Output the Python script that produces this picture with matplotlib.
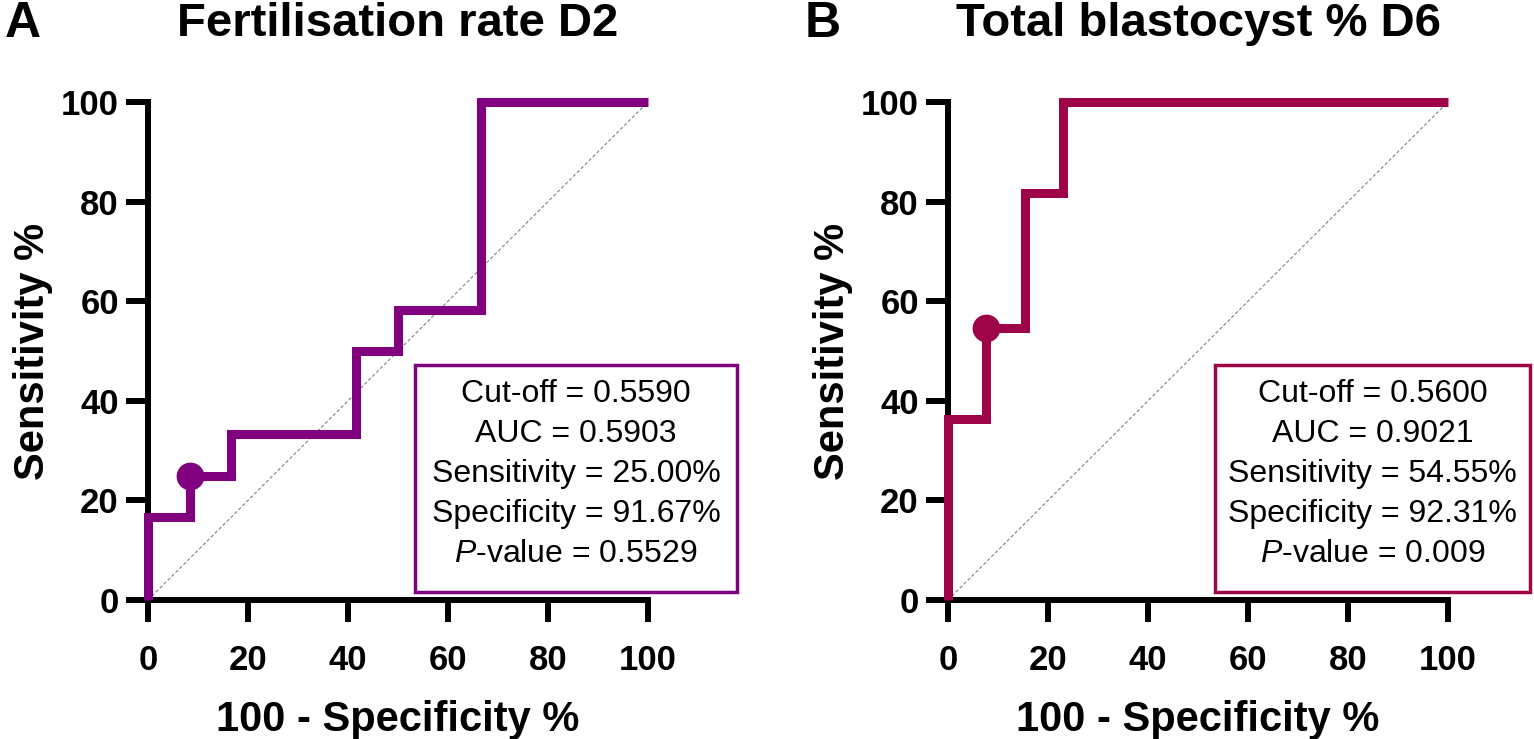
import matplotlib
matplotlib.use('Agg')
import matplotlib.pyplot as plt
from matplotlib.patches import Rectangle

# ROC data (100 - specificity %, sensitivity %)
fpr_a = [0, 0, 8.33, 8.33, 16.67, 16.67, 41.67, 41.67, 50, 50, 66.67, 66.67, 100]
tpr_a = [0, 16.67, 16.67, 25, 25, 33.33, 33.33, 50, 50, 58.33, 58.33, 100, 100]
cut_a = (8.33, 25.0)

fpr_b = [0, 0, 7.69, 7.69, 15.38, 15.38, 23.08, 23.08, 100]
tpr_b = [0, 36.36, 36.36, 54.55, 54.55, 81.82, 81.82, 100, 100]
cut_b = (7.69, 54.55)

titles = ['Fertilisation rate D2', 'Total blastocyst % D6']
letters = ['A', 'B']
colores = ['#800080', '#9E0448']
stats_a = ['Cut-off = 0.5590', 'AUC = 0.5903', 'Sensitivity = 25.00%',
           'Specificity = 91.67%', '$\\it{P}$-value = 0.5529']
stats_b = ['Cut-off = 0.5600', 'AUC = 0.9021', 'Sensitivity = 54.55%',
           'Specificity = 92.31%', '$\\it{P}$-value = 0.009']
ticks = [0, 20, 40, 60, 80, 100]

plt.rcParams['font.family'] = ['Liberation Sans', 'DejaVu Sans']
plt.rcParams['mathtext.fontset'] = 'custom'
plt.rcParams['mathtext.it'] = 'Liberation Sans:italic'
plt.rcParams['mathtext.rm'] = 'Liberation Sans'

fig = plt.figure(figsize=(15.34, 7.39), dpi=100)
lefts = [148/1534, 948/1534]
letter_x = [5/1534, 805/1534]
datos = [(fpr_a, tpr_a, cut_a, stats_a), (fpr_b, tpr_b, cut_b, stats_b)]

for i in range(2):
    ax = fig.add_axes([lefts[i], 1-600/739, 500/1534, 498/739])
    fpr, tpr, cut, stats = datos[i]
    col = colores[i]
    ax.plot([0, 100], [0, 100], ls=(0, (3, 2)), color='gray', lw=0.8, clip_on=False)
    ax.plot(fpr, tpr, color=col, lw=6.5, solid_joinstyle='miter', solid_capstyle='butt',
            clip_on=False, zorder=3)
    ax.plot(cut[0], cut[1], 'o', color=col, ms=19, clip_on=False, zorder=4)
    ax.set_xlim(0, 100)
    ax.set_ylim(0, 100)
    ax.set_xticks(ticks)
    ax.set_yticks(ticks)
    for s in ['top', 'right']:
        ax.spines[s].set_visible(False)
    for s in ['left', 'bottom']:
        ax.spines[s].set_linewidth(4.3)
    ax.tick_params(width=4.3, length=16, labelsize=25, direction='out')
    ax.tick_params(axis='x', pad=16)
    ax.tick_params(axis='y', pad=5)
    for lab in ax.get_xticklabels() + ax.get_yticklabels():
        lab.set_fontweight('bold')
    ax.set_xlabel('100 - Specificity %', fontsize=30, fontweight='bold', labelpad=16)
    ax.set_ylabel('Sensitivity %', fontsize=30, fontweight='bold', labelpad=6)

    cx = lefts[i] + 250/1534
    fig.text(cx, 1-24/739, titles[i], fontsize=34, fontweight='bold', ha='center', va='center')
    fig.text(letter_x[i], 1-24/739, letters[i], fontsize=36, fontweight='bold',
             ha='left', va='center')

    # caja de estadisticas
    w = 64.4 - i*1.4
    rect = Rectangle((53.4, 1.6), w, 45.6, fill=False, edgecolor=col,
                     lw=2.5, clip_on=False, zorder=5)
    ax.add_patch(rect)
    xc = 53.4 + w/2
    for j, linea in enumerate(stats):
        ax.text(xc, 41.4 - j*8.05, linea, ha='center', va='center', fontsize=23,
                family='Liberation Sans')

fig.savefig('out.png', dpi=100)
